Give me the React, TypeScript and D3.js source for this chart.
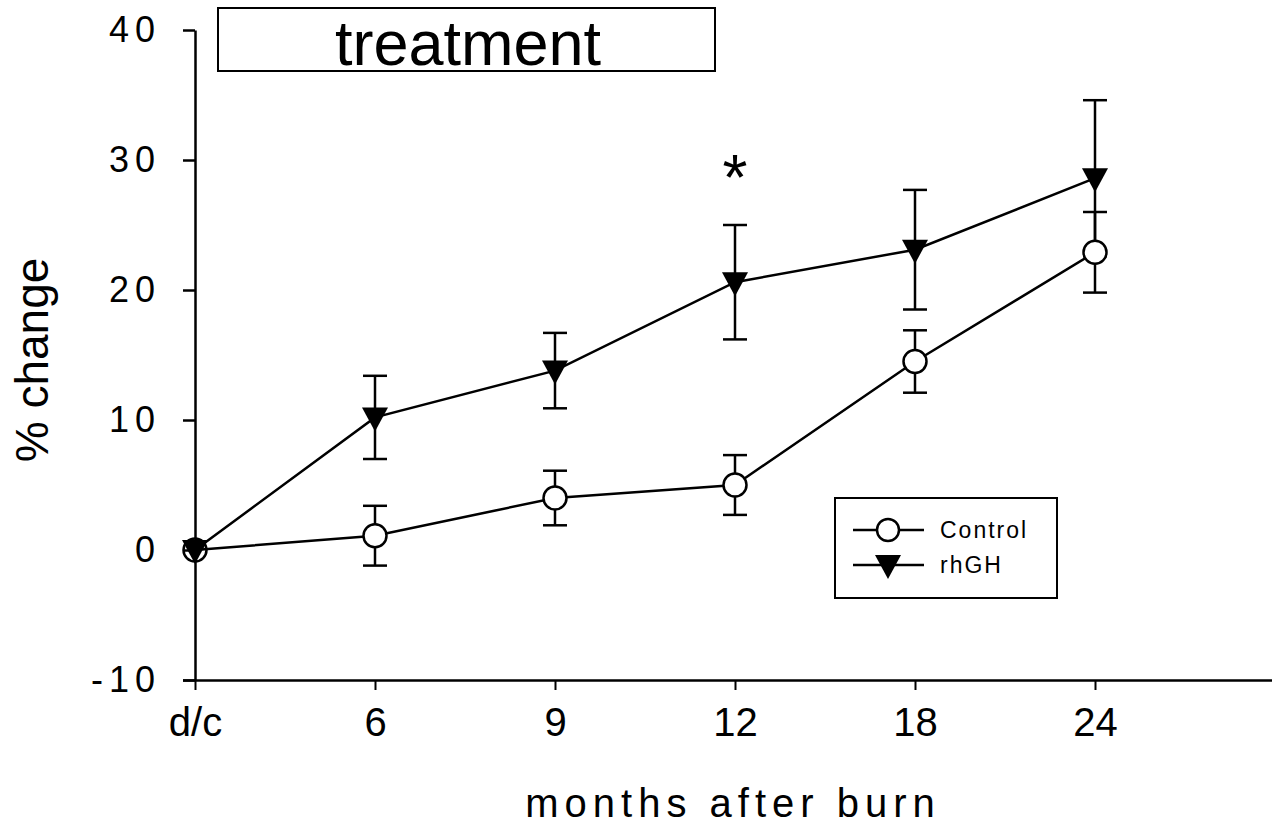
import React, { useEffect, useRef } from 'react';
import * as d3 from 'd3';

const categories = ['d/c', '6', '9', '12', '18', '24'];
const controlMean = [0, 1.1, 4.0, 5.0, 14.5, 22.9];
const controlErr = [0, 2.3, 2.1, 2.3, 2.4, 3.1];
const rhghMean = [0, 10.2, 13.8, 20.6, 23.1, 28.6];
const rhghErr = [0, 3.2, 2.9, 4.4, 4.6, 6.0];
const yTicks = [-10, 0, 10, 20, 30, 40];

const App = () => {
  const svgRef = useRef<SVGSVGElement>(null);

  useEffect(() => {
    const svg = d3.select(svgRef.current);
    svg.selectAll('*').remove();

    const x = d3.scaleLinear().domain([0, 6]).range([195, 1275]);
    const y = d3.scaleLinear().domain([-10, 40]).range([680, 30]);
    const font = '"Liberation Sans", Arial, sans-serif';
    const narrow = '"Liberation Sans Narrow", "Liberation Sans", Arial, sans-serif';

    // axes
    const yAxis = svg.append('g')
      .attr('transform', 'translate(195,0)')
      .call(d3.axisLeft(y).tickValues(yTicks).tickFormat(d => String(d))
        .tickSize(12).tickSizeOuter(0).tickPadding(22));
    yAxis.select('.domain').attr('stroke', '#000').attr('stroke-width', 2.5);
    yAxis.selectAll('.tick line').attr('stroke', '#000').attr('stroke-width', 2.5);
    yAxis.selectAll('.tick text')
      .attr('font-family', font).attr('font-size', 36).attr('letter-spacing', 6)
      .attr('fill', '#000');

    const xAxis = svg.append('g')
      .attr('transform', 'translate(0,680)')
      .call(d3.axisBottom(x).tickValues(d3.range(categories.length))
        .tickFormat(i => categories[i as number]).tickSize(10).tickSizeOuter(0).tickPadding(18));
    xAxis.select('.domain').attr('d', `M183,0.5H1272`).attr('stroke', '#000').attr('stroke-width', 2.5);
    xAxis.selectAll('.tick line').attr('stroke', '#000').attr('stroke-width', 2);
    xAxis.selectAll('.tick text')
      .attr('font-family', narrow).attr('font-size', 40).attr('fill', '#000');

    svg.append('text')
      .attr('x', 733).attr('y', 817)
      .attr('text-anchor', 'middle')
      .attr('font-family', font).attr('font-size', 40).attr('letter-spacing', 6)
      .text('months after burn');

    svg.append('text')
      .attr('transform', 'translate(48,360) rotate(-90)')
      .attr('text-anchor', 'middle')
      .attr('font-family', font).attr('font-size', 46)
      .text('% change');

    // title box
    svg.append('rect')
      .attr('x', 218).attr('y', 8).attr('width', 497).attr('height', 63)
      .attr('fill', 'none').attr('stroke', '#000').attr('stroke-width', 2);
    svg.append('text')
      .attr('x', 468).attr('y', 65)
      .attr('text-anchor', 'middle')
      .attr('font-family', font).attr('font-size', 63)
      .text('treatment');

    const line = d3.line<number>().x((_, i) => x(i)).y(d => y(d));

    const drawErr = (mean: number[], err: number[]) => {
      mean.forEach((m, i) => {
        if (!err[i]) return;
        const g = svg.append('g').attr('stroke', '#000').attr('stroke-width', 2.5);
        g.append('line').attr('x1', x(i)).attr('x2', x(i)).attr('y1', y(m - err[i])).attr('y2', y(m + err[i]));
        [m - err[i], m + err[i]].forEach(v => {
          g.append('line').attr('x1', x(i) - 12).attr('x2', x(i) + 12).attr('y1', y(v)).attr('y2', y(v));
        });
      });
    };

    drawErr(rhghMean, rhghErr);
    drawErr(controlMean, controlErr);

    svg.append('path').datum(rhghMean).attr('d', line)
      .attr('fill', 'none').attr('stroke', '#000').attr('stroke-width', 2.5);
    svg.append('path').datum(controlMean).attr('d', line)
      .attr('fill', 'none').attr('stroke', '#000').attr('stroke-width', 2.5);

    const tri = (cx: number, cy: number) =>
      `M${cx - 13},${cy - 10}L${cx + 13},${cy - 10}L${cx},${cy + 14}Z`;

    rhghMean.forEach((m, i) => {
      svg.append('path').attr('d', tri(x(i), y(m))).attr('fill', '#000');
    });
    controlMean.forEach((m, i) => {
      svg.append('circle').attr('cx', x(i)).attr('cy', y(m)).attr('r', 11.5)
        .attr('fill', i === 0 ? 'none' : '#fff').attr('stroke', '#000').attr('stroke-width', 2.5);
    });

    // significance
    svg.append('text')
      .attr('x', x(3)).attr('y', 200)
      .attr('text-anchor', 'middle')
      .attr('font-family', font).attr('font-size', 64)
      .text('*');

    // legend
    const lg = svg.append('g');
    lg.append('rect').attr('x', 835).attr('y', 498).attr('width', 222).attr('height', 100)
      .attr('fill', '#fff').attr('stroke', '#000').attr('stroke-width', 2);
    [{ name: 'Control', ly: 530 }, { name: 'rhGH', ly: 565 }].forEach((d, k) => {
      lg.append('line').attr('x1', 853).attr('x2', 924).attr('y1', d.ly).attr('y2', d.ly)
        .attr('stroke', '#000').attr('stroke-width', 2.5);
      if (k === 0) {
        lg.append('circle').attr('cx', 888).attr('cy', d.ly).attr('r', 11)
          .attr('fill', '#fff').attr('stroke', '#000').attr('stroke-width', 2.5);
      } else {
        lg.append('path').attr('d', tri(888, d.ly)).attr('fill', '#000');
      }
      lg.append('text').attr('x', 940).attr('y', d.ly + 8)
        .attr('font-family', font).attr('font-size', 23).attr('letter-spacing', 2)
        .text(d.name);
    });
  }, []);

  return <svg ref={svgRef} width={1280} height={828} style={{ display: 'block', position: 'absolute', left: 0, top: 0, background: '#fff' }} />;
};

export default App;
